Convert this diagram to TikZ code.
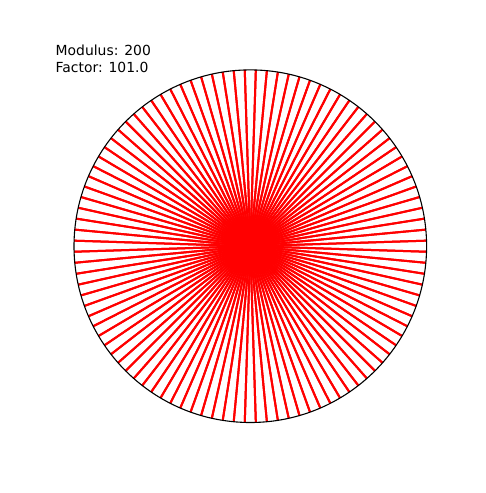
\documentclass[tikz,border=0pt]{standalone}
\usepackage{fontspec}
\setmainfont{DejaVu Sans}
\usetikzlibrary{calc}

\begin{document}
\begin{tikzpicture}[x=1pt,y=-1pt,
    chord/.style={red,line width=2pt},
    rim/.style={black,line width=1.1pt},
    label/.style={anchor=base west,inner sep=0pt,font=\fontsize{13.9}{16.7}\selectfont}]
  \useasboundingbox[fill=white] (0,0) rectangle (485,493);
  \coordinate (c) at (250.3,246.2);
  % points on the circle
  \foreach \i in {0,...,199} {
    \coordinate (p\i) at ($(c)+(1.8*\i:176.3)$);
  }
  % times table 101 mod 200
  \foreach \i in {0,...,199} {
    \pgfmathtruncatemacro{\j}{mod(\i+100*mod(\i,2),200)}
    \draw[chord] (p\i) -- (p\j);
  }
  \draw[rim] (c) circle (176.3);
  \node[label] (modulus) at (55.5,55) {Modulus: 200};
  \node[label] (factor) at (55.5,72.5) {Factor: 101.0};
\end{tikzpicture}
\end{document}
